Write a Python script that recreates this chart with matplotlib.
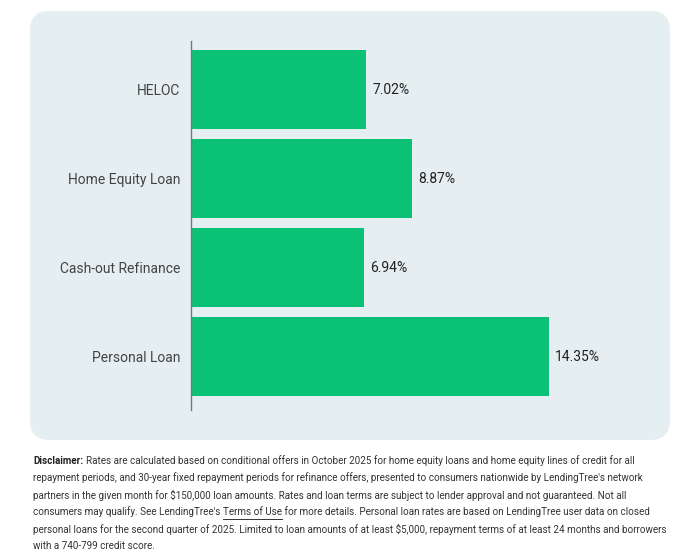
import matplotlib
matplotlib.use("Agg")
from matplotlib import pyplot as plt
from matplotlib.patches import FancyBboxPatch
from matplotlib.lines import Line2D

plt.rcParams['font.family'] = ['Roboto', 'DejaVu Sans']

categories = ['HELOC', 'Home Equity Loan', 'Cash-out Refinance', 'Personal Loan']
rates = [7.02, 8.87, 6.94, 14.35]
value_labels = ['7.02%', '8.87%', '6.94%', '14.35%']

disclaimer_lines = [
    "Rates are calculated based on conditional offers in October 2025 for home equity loans and home equity lines of credit for all",
    "repayment periods, and 30-year fixed repayment periods for refinance offers, presented to consumers nationwide by LendingTree's network",
    "partners in the given month for $150,000 loan amounts. Rates and loan terms are subject to lender approval and not guaranteed. Not all",
    None,
    "personal loans for the second quarter of 2025. Limited to loan amounts of at least $5,000, repayment terms of at least 24 months and borrowers",
    "with a 740-799 credit score.",
]

W, H = 700, 557
fig = plt.figure(figsize=(W / 100, H / 100), dpi=100)
fig.patch.set_facecolor('white')

def fx(px):
    return px / W

def fy(py):
    return 1 - py / H

# panel background
panel = FancyBboxPatch((fx(30), fy(440)), fx(640), 429 / H,
                       boxstyle="round,pad=0,rounding_size=0.028",
                       transform=fig.transFigure, facecolor='#e5eef1',
                       edgecolor='none', mutation_aspect=W / H, zorder=0)
fig.patches.append(panel)

ax = fig.add_axes([fx(191), fy(410), fx(449), 369 / H])
ax.set_zorder(2)
ax.set_facecolor('none')
ypos = list(range(len(categories)))
ax.barh(ypos, rates, height=0.89, color='#0bc176', zorder=2)
ax.set_xlim(0, 18)
ax.set_ylim(3.601, -0.545)

for y, v, lab in zip(ypos, rates, value_labels):
    ax.text(v + 0.24, y, lab, va='center', ha='left', fontsize=10, color='#222222')

ax.set_yticks(ypos)
ax.set_yticklabels(categories, fontsize=10, color='#444444')
ax.tick_params(axis='y', length=0, pad=7.5)
ax.set_xticks([])
for s in ['top', 'right', 'bottom']:
    ax.spines[s].set_visible(False)
ax.spines['left'].set_color('#777777')
ax.spines['left'].set_linewidth(1)

# disclaimer
fs = 7.12
x0 = fx(33)
line_y = [461, 478, 495, 512, 529, 546]
renderer = fig.canvas.get_renderer()
inv = fig.transFigure.inverted()

def width_of(t):
    bb = t.get_window_extent(renderer=renderer)
    return inv.transform((bb.x1, 0))[0] - inv.transform((bb.x0, 0))[0]

for i, (line, py) in enumerate(zip(disclaimer_lines, line_y)):
    yy = fy(py)
    if i == 0:
        t = fig.text(x0, yy, "Disclaimer:", fontsize=fs, fontweight='bold', color='#222222', va='center')
        w = width_of(t)
        fig.text(x0 + w + 0.004, yy, line, fontsize=fs, color='#333333', va='center')
    elif line is None:
        t1 = fig.text(x0, yy, "consumers may qualify. See LendingTree's ", fontsize=fs, color='#333333', va='center')
        w1 = width_of(t1)
        t2 = fig.text(x0 + w1, yy, "Terms of Use", fontsize=fs, color='#333333', va='center')
        w2 = width_of(t2)
        fig.lines.append(Line2D([x0 + w1, x0 + w1 + w2], [yy - 0.0125, yy - 0.0125],
                                transform=fig.transFigure, color='#333333', linewidth=0.7))
        fig.text(x0 + w1 + w2, yy, " for more details. Personal loan rates are based on LendingTree user data on closed",
                 fontsize=fs, color='#333333', va='center')
    else:
        fig.text(x0, yy, line, fontsize=fs, color='#333333', va='center')

fig.savefig('out.png', dpi=100)
